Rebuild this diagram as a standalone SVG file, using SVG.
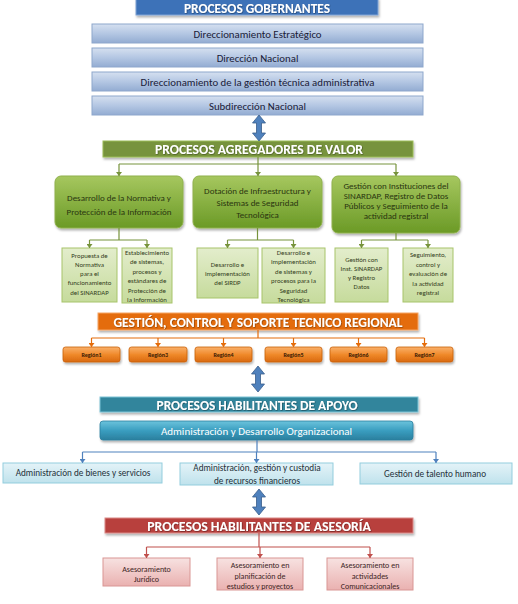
<svg xmlns="http://www.w3.org/2000/svg" width="518" height="604" viewBox="0 0 518 604">
<defs>
<linearGradient id="gBar" x1="0" y1="0" x2="0" y2="1"><stop offset="0" stop-color="#d5e0f0"/><stop offset="0.5" stop-color="#b4c7e3"/><stop offset="1" stop-color="#93acd2"/></linearGradient>
<linearGradient id="gGreen" x1="0" y1="0" x2="0" y2="1"><stop offset="0" stop-color="#a6c75f"/><stop offset="1" stop-color="#6b9a26"/></linearGradient>
<linearGradient id="gLGreen" x1="0" y1="0" x2="0" y2="1"><stop offset="0" stop-color="#e3edcc"/><stop offset="1" stop-color="#c6db9c"/></linearGradient>
<linearGradient id="gOrange" x1="0" y1="0" x2="0" y2="1"><stop offset="0" stop-color="#fab16a"/><stop offset="0.5" stop-color="#f08a2c"/><stop offset="1" stop-color="#d9680c"/></linearGradient>
<linearGradient id="gTeal" x1="0" y1="0" x2="0" y2="1"><stop offset="0" stop-color="#6cc3dc"/><stop offset="0.5" stop-color="#3a9ec0"/><stop offset="1" stop-color="#2a7f9e"/></linearGradient>
<linearGradient id="gLBlue" x1="0" y1="0" x2="0" y2="1"><stop offset="0" stop-color="#e4f3f8"/><stop offset="1" stop-color="#bfe2ec"/></linearGradient>
<linearGradient id="gPink" x1="0" y1="0" x2="0" y2="1"><stop offset="0" stop-color="#f7e2e1"/><stop offset="1" stop-color="#eab1b0"/></linearGradient>
<filter id="sh" x="-5%" y="-20%" width="110%" height="160%"><feDropShadow dx="1" dy="2" stdDeviation="1.2" flood-color="#000" flood-opacity="0.3"/></filter>
<filter id="ts" x="-5%" y="-20%" width="110%" height="160%"><feDropShadow dx="0.6" dy="0.6" stdDeviation="0.4" flood-color="#000" flood-opacity="0.45"/></filter>
<marker id="aG" markerWidth="6" markerHeight="6" refX="3" refY="5" markerUnits="userSpaceOnUse" viewBox="0 0 6 6"><path d="M0,1 L6,1 L3,5 Z" fill="#77933c"/></marker>
<marker id="aO" markerWidth="6" markerHeight="6" refX="3" refY="5" markerUnits="userSpaceOnUse" viewBox="0 0 6 6"><path d="M0,1 L6,1 L3,5 Z" fill="#e46c0a"/></marker>
<marker id="aB" markerWidth="6" markerHeight="6" refX="3" refY="5" markerUnits="userSpaceOnUse" viewBox="0 0 6 6"><path d="M0,1 L6,1 L3,5 Z" fill="#4f81bd"/></marker>
<marker id="aR" markerWidth="6" markerHeight="6" refX="3" refY="5" markerUnits="userSpaceOnUse" viewBox="0 0 6 6"><path d="M0,1 L6,1 L3,5 Z" fill="#c0504d"/></marker>
<path id="dbl" d="M0,0 L6.5,8 L2.5,8 L2.5,18 L6.5,18 L0,26 L-6.5,18 L-2.5,18 L-2.5,8 L-6.5,8 Z"/>
</defs>
<style>
text{font-family:Carlito,"Liberation Sans",Arial,sans-serif;text-anchor:middle}
.hd{font-weight:bold;fill:#fff}
.bar{fill:url(#gBar);stroke:#8ea7cc;stroke-width:1}
.bt{font-size:10.8px;fill:#1a2038}
.gb{fill:url(#gGreen);stroke:#8fb04c;stroke-width:1}
.gt{font-size:9px;fill:#2a3610}
.lg{fill:url(#gLGreen);stroke:#a7c46a;stroke-width:1}
.st{font-size:6.8px;fill:#34401c}
.rg{fill:url(#gOrange);stroke:#c85f0a;stroke-width:0.8}
.rt{font-size:6px;fill:#3a1c05;font-weight:bold}
.lb{fill:url(#gLBlue);stroke:#93cddd;stroke-width:1}
.lbt{font-size:9.2px;fill:#1e3038}
.pk{fill:url(#gPink);stroke:#d99694;stroke-width:1}
.pt{font-size:8px;fill:#3c1e1e}
.cg{stroke:#77933c;stroke-width:1.2;fill:none}
.co{stroke:#e46c0a;stroke-width:1.2;fill:none}
.cb{stroke:#4f81bd;stroke-width:1.2;fill:none}
.cr{stroke:#c0504d;stroke-width:1.2;fill:none}
.da{fill:#4f81bd;stroke:#385d8a;stroke-width:0.8}
</style>
<rect width="518" height="604" fill="#fff"/>

<g id="gobernantes">
<rect x="136" y="-2" width="242" height="17" fill="#3d72b8" stroke="#7fa2d4" stroke-width="1" filter="url(#sh)"/>
<text class="hd" x="257" y="13.2" font-size="13.4" filter="url(#ts)">PROCESOS GOBERNANTES</text>
</g>
<g id="dir-estrategico"><rect class="bar" x="92" y="24" width="331" height="19"/><text class="bt" x="257.5" y="37.5">Direccionamiento Estratégico</text></g>
<g id="dir-nacional"><rect class="bar" x="92" y="48" width="331" height="19"/><text class="bt" x="257.5" y="61.5">Dirección Nacional</text></g>
<g id="dir-gestion"><rect class="bar" x="92" y="72" width="331" height="19"/><text class="bt" x="257.5" y="85.5">Direccionamiento de la gestión técnica administrativa</text></g>
<g id="subdireccion"><rect class="bar" x="92" y="96" width="331" height="19"/><text class="bt" x="257.5" y="109.5">Subdirección Nacional</text></g>

<g id="agregadores">
<rect x="103" y="141" width="310" height="16" fill="#77933c" stroke="#9bbb59" stroke-width="1" filter="url(#sh)"/>
<text class="hd" x="259" y="154" font-size="13.6" filter="url(#ts)">PROCESOS AGREGADORES DE VALOR</text>
</g>
<g id="normativa"><rect class="gb" x="55" y="176" width="128" height="52" rx="6" filter="url(#sh)"/><text class="gt" x="119" y="201">Desarrollo de la Normativa y</text><text class="gt" x="119" y="215">Protección de la Información</text></g>
<g id="infraestructura"><rect class="gb" x="193" y="176" width="129" height="52" rx="6" filter="url(#sh)"/><text class="gt" x="257.5" y="194">Dotación de Infraestructura y</text><text class="gt" x="257.5" y="206">Sistemas de Seguridad</text><text class="gt" x="257.5" y="218">Tecnológica</text></g>
<g id="instituciones"><rect class="gb" x="332" y="176" width="128" height="57" rx="6" filter="url(#sh)"/><text class="gt" x="396" y="188.5">Gestión con Instituciones del</text><text class="gt" x="396" y="198.5">SINARDAP, Registro de Datos</text><text class="gt" x="396" y="208.5">Públicos y Seguimiento de la</text><text class="gt" x="396" y="218.5">actividad registral</text></g>

<g id="propuesta"><rect class="lg" x="62" y="248" width="55" height="54"/><text class="st" x="89.5" y="257.5">Propuesta de</text><text class="st" x="89.5" y="266.5">Normativa</text><text class="st" x="89.5" y="275.5">para el</text><text class="st" x="89.5" y="285">funcionamiento</text><text class="st" x="89.5" y="295">del SINARDAP</text></g>
<g id="establecimiento"><rect class="lg" x="122" y="248" width="50" height="55"/><text class="st" x="147" y="254.5">Establecimiento</text><text class="st" x="147" y="264">de sistemas,</text><text class="st" x="147" y="273.5">procesos y</text><text class="st" x="147" y="283">estándares de</text><text class="st" x="147" y="292.5">Protección de</text><text class="st" x="147" y="302">la Información</text></g>
<g id="sirdp"><rect class="lg" x="197" y="248" width="61" height="50"/><text class="st" x="227.5" y="267">Desarrollo e</text><text class="st" x="227.5" y="276">implementación</text><text class="st" x="227.5" y="285">del SIRDP</text></g>
<g id="seguridad"><rect class="lg" x="262" y="248" width="63" height="55"/><text class="st" x="293.5" y="254.5">Desarrollo e</text><text class="st" x="293.5" y="264">implementación</text><text class="st" x="293.5" y="273.5">de sistemas y</text><text class="st" x="293.5" y="283">procesos para la</text><text class="st" x="293.5" y="292.5">Seguridad</text><text class="st" x="293.5" y="302">Tecnológica</text></g>
<g id="gestion-inst"><rect class="lg" x="335" y="248" width="53" height="54"/><text class="st" x="361.5" y="262">Gestión con</text><text class="st" x="361.5" y="271">Inst. SINARDAP</text><text class="st" x="361.5" y="280">y Registro</text><text class="st" x="361.5" y="289">Datos</text></g>
<g id="seguimiento"><rect class="lg" x="403" y="248" width="50" height="54"/><text class="st" x="428" y="257">Seguimiento,</text><text class="st" x="428" y="266.5">control y</text><text class="st" x="428" y="276">evaluación de</text><text class="st" x="428" y="285.5">la actividad</text><text class="st" x="428" y="295">registral</text></g>

<g id="regional">
<rect x="98" y="313" width="320" height="17" fill="#e46c0a" stroke="#f5a566" stroke-width="1" filter="url(#sh)"/>
<text class="hd" x="258" y="326.5" font-size="13.5" filter="url(#ts)">GESTIÓN, CONTROL Y SOPORTE TECNICO REGIONAL</text>
</g>
<g id="region1"><rect class="rg" x="63" y="347" width="57" height="15" rx="2.5" filter="url(#sh)"/><text class="rt" x="91.5" y="357">Región1</text></g>
<g id="region3"><rect class="rg" x="129" y="347" width="58" height="15" rx="2.5" filter="url(#sh)"/><text class="rt" x="158" y="357">Región3</text></g>
<g id="region4"><rect class="rg" x="195" y="347" width="57" height="15" rx="2.5" filter="url(#sh)"/><text class="rt" x="223.5" y="357">Región4</text></g>
<g id="region5"><rect class="rg" x="265" y="347" width="57" height="15" rx="2.5" filter="url(#sh)"/><text class="rt" x="293.5" y="357">Región5</text></g>
<g id="region6"><rect class="rg" x="330" y="347" width="57" height="15" rx="2.5" filter="url(#sh)"/><text class="rt" x="358.5" y="357">Región6</text></g>
<g id="region7"><rect class="rg" x="396" y="347" width="57" height="15" rx="2.5" filter="url(#sh)"/><text class="rt" x="424.5" y="357">Región7</text></g>

<g id="apoyo">
<rect x="100" y="397" width="318" height="15" fill="#31859c" stroke="#7fc3d6" stroke-width="1" filter="url(#sh)"/>
<text class="hd" x="257" y="409.5" font-size="13.4" filter="url(#ts)">PROCESOS HABILITANTES DE  APOYO</text>
</g>
<g id="admin-desarrollo"><rect x="100" y="421" width="313" height="19" rx="3" fill="url(#gTeal)" stroke="#2a7f9e" stroke-width="0.8" filter="url(#sh)"/><text x="256.5" y="434.5" font-size="11" fill="#fff">Administración y Desarrollo Organizacional</text></g>
<g id="bienes"><rect class="lb" x="3" y="463" width="159" height="20"/><text class="lbt" x="83" y="476">Administración de bienes y servicios</text></g>
<g id="financieros"><rect class="lb" x="180" y="463" width="153" height="22"/><text class="lbt" x="257" y="471" font-size="8.7">Administración, gestión y custodia</text><text class="lbt" x="257" y="484" font-size="8.7">de recursos financieros</text></g>
<g id="talento"><rect class="lb" x="360" y="463" width="152" height="21"/><text class="lbt" x="435" y="476.5">Gestión de talento humano</text></g>

<g id="asesoria">
<rect x="105" y="518" width="308" height="15" fill="#b8403c" stroke="#d98a88" stroke-width="1" filter="url(#sh)"/>
<text class="hd" x="259" y="530.5" font-size="13.8" filter="url(#ts)">PROCESOS HABILITANTES DE ASESORÍA</text>
</g>
<g id="juridico"><rect class="pk" x="103" y="558" width="87" height="28"/><text class="pt" x="146.5" y="572">Asesoramiento</text><text class="pt" x="146.5" y="581.5">Jurídico</text></g>
<g id="planificacion"><rect class="pk" x="217" y="558" width="86" height="32"/><text class="pt" x="260" y="567.5">Asesoramiento en</text><text class="pt" x="260" y="578.5">planificación  de</text><text class="pt" x="260" y="589">estudios y proyectos</text></g>
<g id="comunicacionales"><rect class="pk" x="327" y="558" width="86" height="32"/><text class="pt" x="370" y="567.5">Asesoramiento en</text><text class="pt" x="370" y="578.5">actividades</text><text class="pt" x="370" y="589">Comunicacionales</text></g>

<g id="connectors">
<use href="#dbl" x="259" y="115" class="da"/>
<use href="#dbl" x="258" y="366" class="da"/>
<use href="#dbl" x="259" y="489" class="da"/>
<path class="cg" d="M258,157 V164 M119,164 H396"/>
<path class="cg" d="M119,164 V176" marker-end="url(#aG)"/>
<path class="cg" d="M258,164 V176" marker-end="url(#aG)"/>
<path class="cg" d="M396,164 V176" marker-end="url(#aG)"/>
<path class="cg" d="M119,228 V240 M89.5,240 H147 M257.5,228 V240 M227.5,240 H293.5 M396,233 V240 M361.5,240 H428"/>
<path class="cg" d="M89.5,240 V248" marker-end="url(#aG)"/>
<path class="cg" d="M147,240 V248" marker-end="url(#aG)"/>
<path class="cg" d="M227.5,240 V248" marker-end="url(#aG)"/>
<path class="cg" d="M293.5,240 V248" marker-end="url(#aG)"/>
<path class="cg" d="M361.5,240 V248" marker-end="url(#aG)"/>
<path class="cg" d="M428,240 V248" marker-end="url(#aG)"/>
<path class="co" d="M258,330 V338 M91.5,338 H424.5"/>
<path class="co" d="M91.5,338 V347" marker-end="url(#aO)"/>
<path class="co" d="M158,338 V347" marker-end="url(#aO)"/>
<path class="co" d="M223.5,338 V347" marker-end="url(#aO)"/>
<path class="co" d="M293.5,338 V347" marker-end="url(#aO)"/>
<path class="co" d="M358.5,338 V347" marker-end="url(#aO)"/>
<path class="co" d="M424.5,338 V347" marker-end="url(#aO)"/>
<path class="cb" d="M257,440 V452 M82.5,452 H436"/>
<path class="cb" d="M82.5,452 V463" marker-end="url(#aB)"/>
<path class="cb" d="M256.5,452 V463" marker-end="url(#aB)"/>
<path class="cb" d="M436,452 V463" marker-end="url(#aB)"/>
<path class="cr" d="M259,533 V547 M146.5,547 H370"/>
<path class="cr" d="M146.5,547 V558" marker-end="url(#aR)"/>
<path class="cr" d="M260,547 V558" marker-end="url(#aR)"/>
<path class="cr" d="M370,547 V558" marker-end="url(#aR)"/>
</g>
</svg>
